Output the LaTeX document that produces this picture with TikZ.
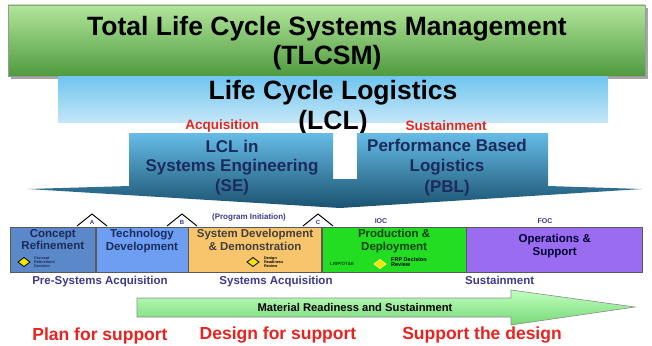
\documentclass[tikz,border=0pt]{standalone}
\usepackage{fontspec}
\setmainfont{Liberation Sans}
\usetikzlibrary{positioning,shadows}
\definecolor{tlcsmLight}{HTML}{B2E69A}
\definecolor{tlcsmDark}{HTML}{4F9A3F}
\definecolor{lclTop}{HTML}{6FC5F0}
\definecolor{lclBottom}{HTML}{C4E6F7}
\definecolor{chevTop}{HTML}{66BCE7}
\definecolor{chevBottom}{HTML}{1B5270}
\definecolor{crBlue}{HTML}{5A88C8}
\definecolor{tdBlue}{HTML}{6E9EF1}
\definecolor{sddTan}{HTML}{F8C46C}
\definecolor{pdGreen}{HTML}{22DD22}
\definecolor{osPurple}{HTML}{9A6CF0}
\definecolor{phaseNavy}{HTML}{1C2B5E}
\definecolor{labelBlue}{HTML}{3A3A90}
\definecolor{planRed}{HTML}{E8231F}
\definecolor{diamondYellow}{HTML}{F4E600}
\newcommand{\drawMilestone}[3]{
    \draw[fill=white, line width=1pt] (#1-15,226) -- (#1,214) -- (#1+15,226);
    \node[font=\bfseries\fontsize{6}{6}\selectfont, text=labelBlue] (#3) at (#1,222) {#2};
}
\newcommand{\drawDecisionDiamond}[3]{
    \filldraw[fill=diamondYellow, draw=#3, line width=0.8pt] (#1-6,#2) -- (#1,#2-4.5) -- (#1+6,#2) -- (#1,#2+4.5) -- cycle;
}

\begin{document}
\begin{tikzpicture}[x=1pt, y=-1pt,
    every node/.style={align=center, inner sep=0pt},
    phasebox/.style={draw=black!65, line width=0.6pt, minimum height=45pt, inner sep=0pt},
    phasetext/.style={font=\bfseries\fontsize{11.5}{12.5}\selectfont, text=phaseNavy},
    tinytext/.style={font=\bfseries\fontsize{3.8}{3.9}\selectfont, align=left},
    stagetext/.style={font=\bfseries\fontsize{11.5}{12}\selectfont, text=labelBlue},
    redtext/.style={font=\bfseries\fontsize{17.5}{18}\selectfont, text=planRed},
    titletext/.style={font=\bfseries\fontsize{26.5}{29}\selectfont}]
    \useasboundingbox (0,0) rectangle (652,345);

    % top layers
    \fill[black!35] (11,8) rectangle (648,79);
    \shade[top color=tlcsmLight, bottom color=tlcsmDark, draw=black!40] (8,5) rectangle (645,76);
    \node[titletext] (tlcsm) at (327,43.5) {Total Life Cycle Systems Management\\(TLCSM)};
    \shade[top color=lclTop, bottom color=lclBottom] (58,76) rectangle (608,122);
    \node[titletext, font=\bfseries\fontsize{26.5}{30}\selectfont] (lcl) at (333,107.5) {Life Cycle Logistics\\(LCL)};
    \node[font=\bfseries\fontsize{13.5}{14}\selectfont, text=planRed] (acq) at (222,126) {Acquisition};
    \node[font=\bfseries\fontsize{13.5}{14}\selectfont, text=planRed] (sus) at (446,126) {Sustainment};

    % chevron with SE and PBL
    \shade[top color=chevTop, bottom color=chevBottom]
        (129,133) -- (333,133) -- (333,179) -- (357,179) -- (357,133) -- (548,133)
        -- (548,186) -- (642,189) -- (340,208) -- (28,189) -- (129,186) -- cycle;
    \node[font=\bfseries\fontsize{17}{19.5}\selectfont, text=phaseNavy] (se) at (232,167.5) {LCL in\\Systems Engineering\\(SE)};
    \node[font=\bfseries\fontsize{17}{20.5}\selectfont, text=phaseNavy] (pbl) at (447,167.5) {Performance Based\\Logistics\\(PBL)};

    % milestones
    \drawMilestone{92}{A}{msA}
    \drawMilestone{182}{B}{msB}
    \drawMilestone{318}{C}{msC}
    \node[font=\bfseries\fontsize{8}{8}\selectfont, text=labelBlue] (init) at (249,217) {(Program Initiation)};
    \node[font=\bfseries\fontsize{7}{7}\selectfont, text=labelBlue] (ioc) at (381,221) {IOC};
    \node[font=\bfseries\fontsize{7}{7}\selectfont, text=labelBlue] (foc) at (545,221) {FOC};

    % phases
    \node[phasebox, fill=crBlue, minimum width=85pt, anchor=north west] (cr) at (10,227) {};
    \node[phasebox, fill=tdBlue, minimum width=92pt, right=0pt of cr] (td) {};
    \node[phasebox, fill=sddTan, minimum width=133pt, right=0pt of td] (sdd) {};
    \node[phasebox, fill=pdGreen, minimum width=144pt, right=0pt of sdd] (pd) {};
    \node[phasebox, fill=osPurple, minimum width=176pt, right=0pt of pd] (os) {};

    \node[phasetext, below=2pt of cr.north] (crText) {Concept\\Refinement};
    \node[phasetext, below=2pt of td.north] (tdText) {Technology\\Development};
    \node[phasetext, below=2pt of sdd.north, text=black!75] (sddText) {System Development\\\& Demonstration};
    \node[phasetext, below=2pt of pd.north, text=black!75!green] (pdText) {Production \&\\Deployment};
    \node[phasetext, below=7pt of os.north, text=black!80!blue] (osText) {Operations \&\\Support};

    \drawDecisionDiamond{24}{262}{black}
    \node[tinytext, text=phaseNavy, anchor=west] (crd) at (34,262) {Concept\\Refinement\\Decision};
    \drawDecisionDiamond{253}{262}{black}
    \node[tinytext, anchor=west] (drr) at (264,262) {Design\\Readiness\\Review};
    \drawDecisionDiamond{380}{264}{diamondYellow!60!white}
    \node[font=\bfseries\fontsize{4.5}{4.5}\selectfont, text=black!70!green, anchor=west] (lrip) at (330,264) {LRIP/OT\&E};
    \node[font=\bfseries\fontsize{5.5}{5.5}\selectfont, anchor=west, align=left] (frp) at (391,262) {FRP Decision\\Review};

    % stage labels
    \node[stagetext] (pre) at (100,282) {Pre-Systems Acquisition};
    \node[stagetext] (sa) at (276,282) {Systems Acquisition};
    \node[stagetext, anchor=west] (sust) at (465,280) {Sustainment};

    % readiness arrow
    \shade[top color=green!25, bottom color=green!45!white!85!black, draw=black!45, line width=0.6pt]
        (137,298) -- (511,298) -- (511,290) -- (635,307) -- (511,325) -- (511,317) -- (137,317) -- cycle;
    \node[font=\bfseries\fontsize{11.2}{12}\selectfont] (mrs) at (355,307.5) {Material Readiness and Sustainment};

    % bottom texts
    \node[redtext] (plan) at (100,335.5) {Plan for support};
    \node[redtext] (design) at (278,335.5) {Design for support};
    \node[redtext] (support) at (482,335.5) {Support the design};
\end{tikzpicture}
\end{document}
